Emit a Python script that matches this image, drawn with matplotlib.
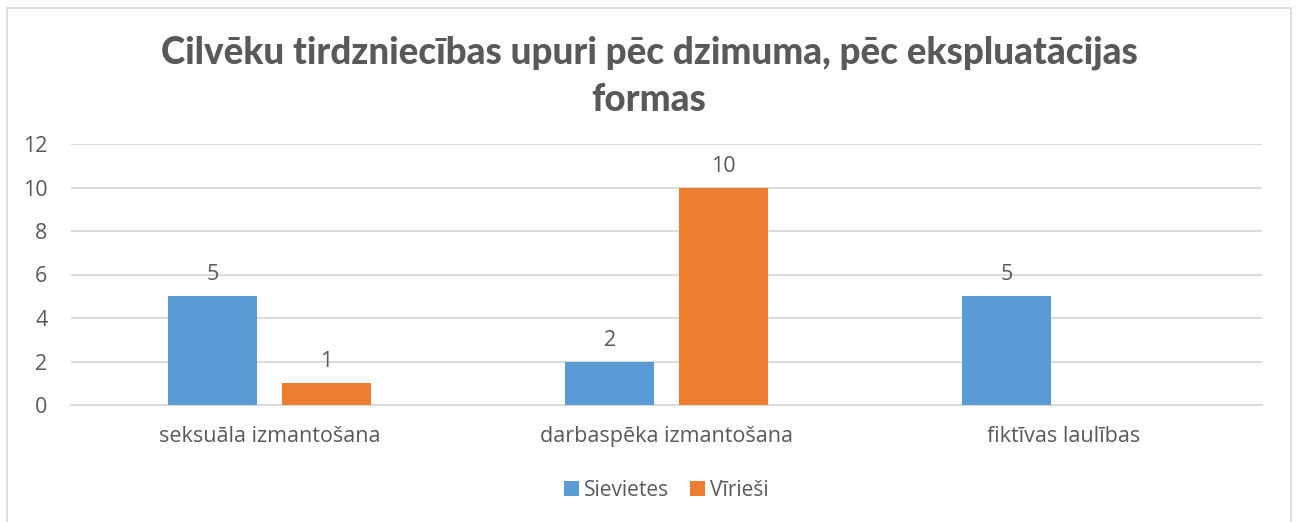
import numpy as np
import matplotlib
matplotlib.use("Agg")
import matplotlib.pyplot as plt
from matplotlib.patches import Rectangle

# chart data
categories = ["seksuāla izmantošana", "darbaspēka izmantošana", "fiktīvas laulības"]
series_names = ["Sievietes", "Vīrieši"]
women = [5, 2, 5]
men = [1, 10, None]
title = "Cilvēku tirdzniecības upuri pēc dzimuma, pēc ekspluatācijas\nformas"

colors = ["#5B9BD5", "#ED7D31"]
text_gray = "#595959"
grid_gray = "#D9D9D9"

plt.rcParams["font.family"] = ["Open Sans", "DejaVu Sans"]
fs = 15.5

fig = plt.figure(figsize=(12.98, 5.22), dpi=100)
ax = fig.add_axes([71 / 1298, 1 - 405 / 522, (1262 - 71) / 1298, 261 / 522])

# outer chart border (bottom edge runs off the picture)
fig.patches.append(Rectangle((7 / 1298, -0.1), (1291 - 7) / 1298, 1.1 - 8 / 522,
                             transform=fig.transFigure, fill=False,
                             edgecolor=grid_gray, linewidth=1.2))

x = np.arange(len(categories))
width = 0.224
offset = 0.143
for i, (name, vals) in enumerate(zip(series_names, [women, men])):
    xs = x + (-offset if i == 0 else offset)
    hs = [np.nan if v is None else v for v in vals]
    ax.bar(xs, hs, width, color=colors[i], label=name, zorder=3)
    for xi, v in zip(xs, vals):
        if v is None:
            continue
        ax.text(xi, v + 0.5, str(v), ha="center", va="bottom",
                fontsize=fs, color=text_gray)

ax.set_xlim(-0.5, len(categories) - 0.5)
ax.set_ylim(0, 12)
ax.set_yticks(range(0, 13, 2))
ax.set_xticks(x)
ax.set_xticklabels(categories)
ax.tick_params(axis="both", length=0, labelsize=fs, labelcolor=text_gray)
ax.tick_params(axis="y", pad=17)
ax.tick_params(axis="x", pad=15)
ax.grid(axis="y", color=grid_gray, linewidth=1.3, zorder=0)
for s in ["top", "right", "left"]:
    ax.spines[s].set_visible(False)
ax.spines["bottom"].set_color(grid_gray)
ax.spines["bottom"].set_linewidth(1.3)

fig.text(0.5, 1 - 76 / 522, title, ha="center", va="center",
         fontsize=26.5, fontweight="black", family=["Lato", "DejaVu Sans"],
         color=text_gray, linespacing=1.45)

ax.legend(loc="center", bbox_to_anchor=(0.5, -(490 - 405) / 261),
          ncol=2, frameon=False, fontsize=15, labelcolor=text_gray,
          handlelength=0.7, handleheight=0.7, handletextpad=0.25, columnspacing=1.0)

fig.savefig("out.png", dpi=100, facecolor="white")
